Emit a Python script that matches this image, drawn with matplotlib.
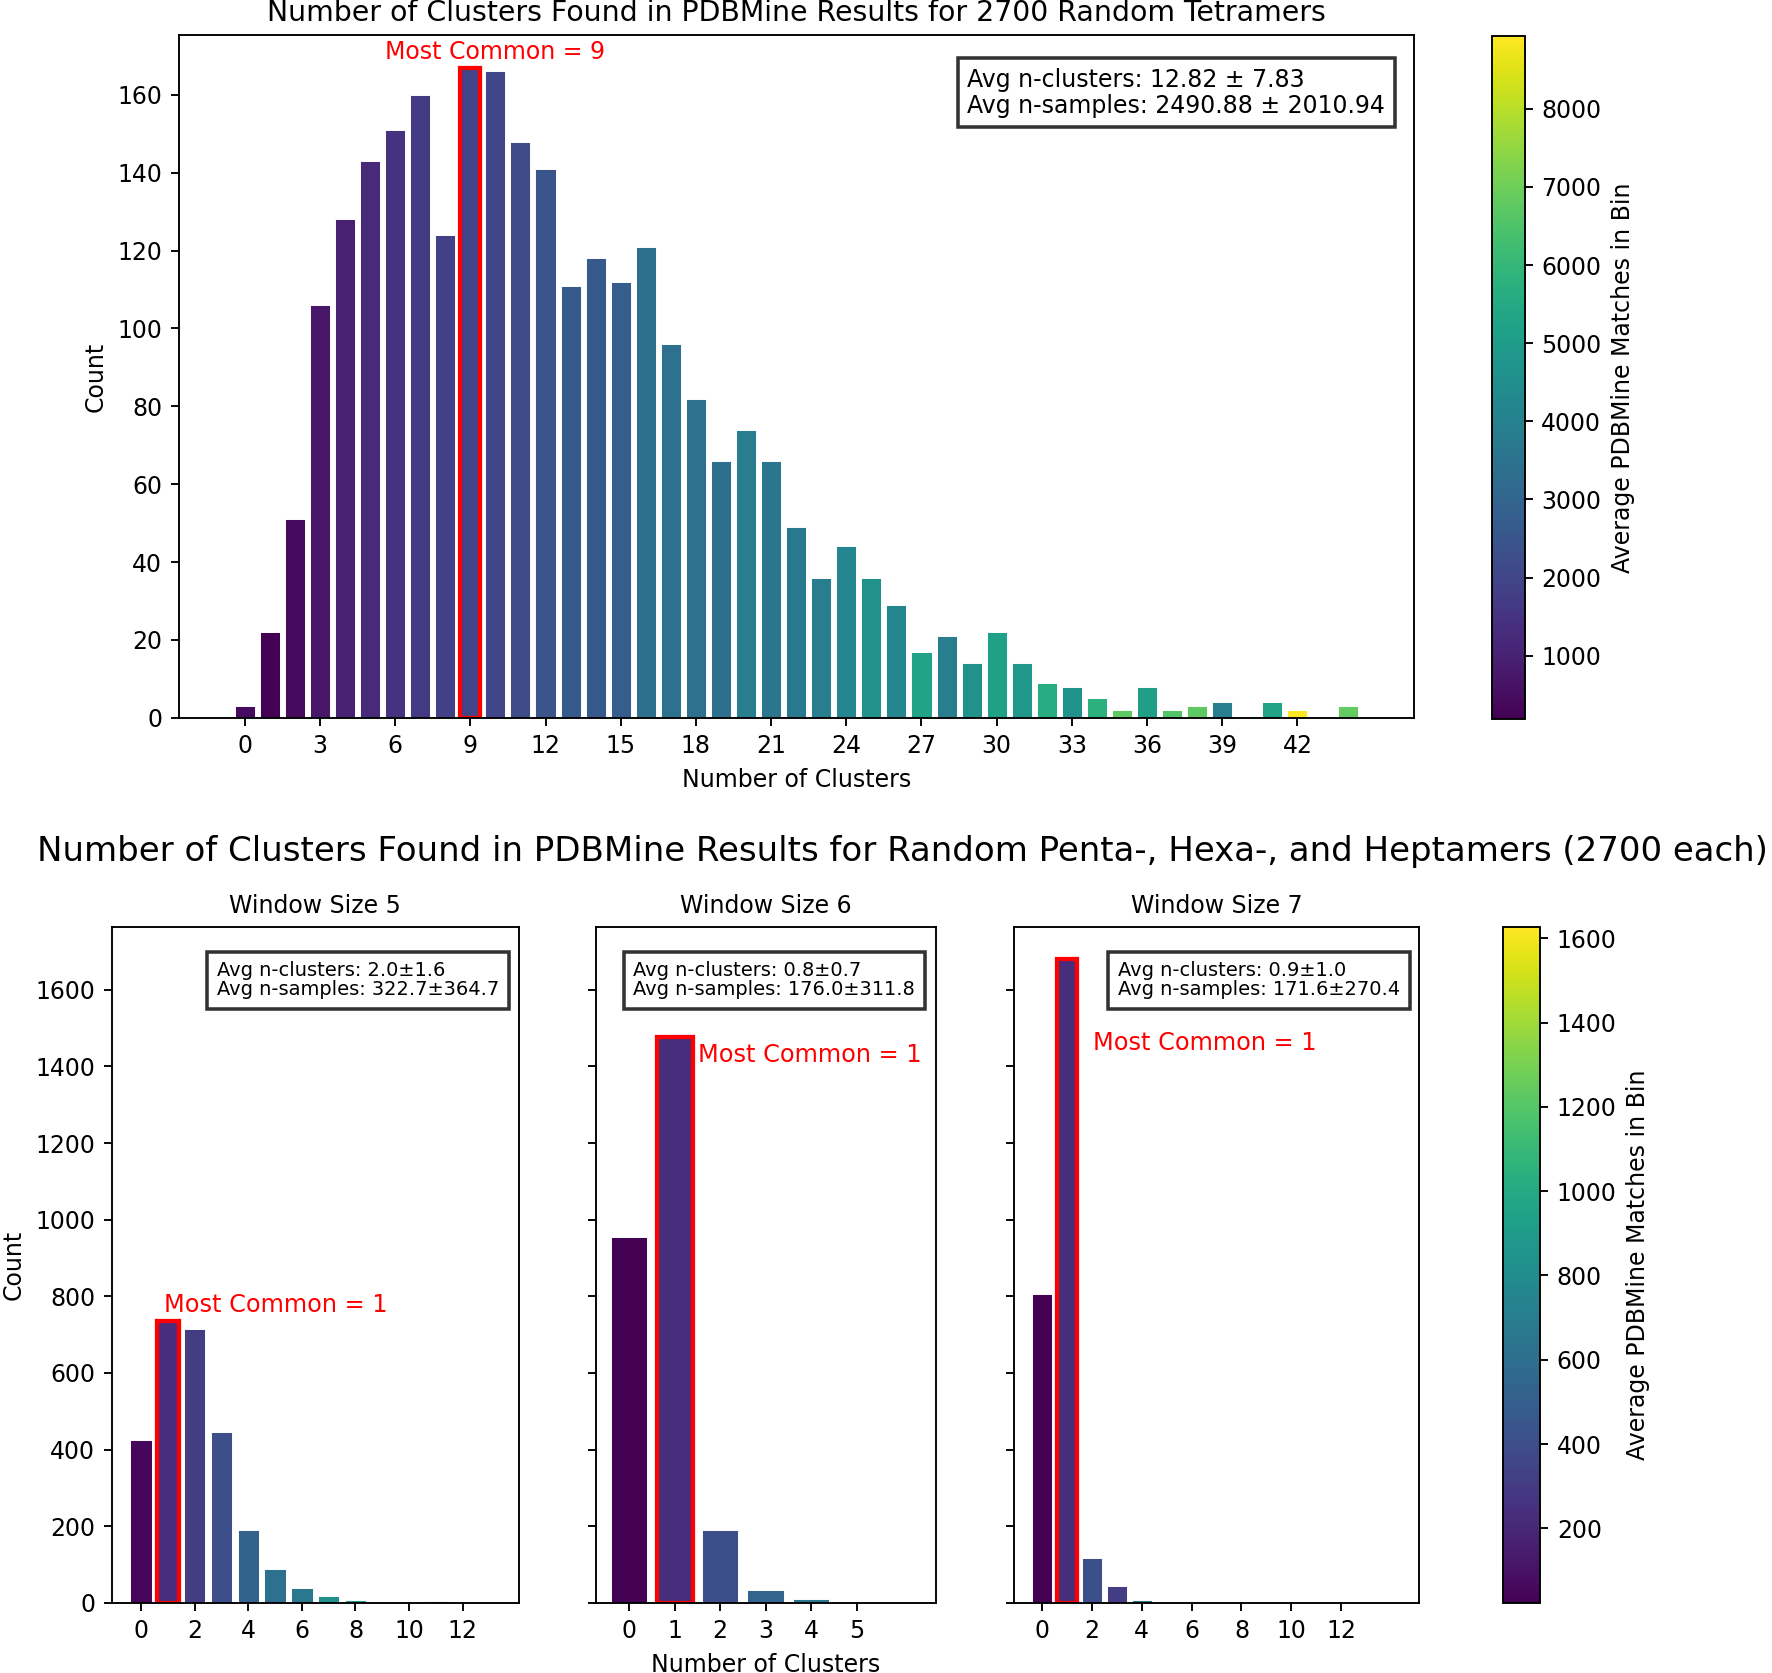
import matplotlib
matplotlib.use("Agg")
import matplotlib.pyplot as plt
from matplotlib.colors import Normalize
from matplotlib.cm import ScalarMappable

# ---------------- data ----------------
top_clusters = [0, 1, 2, 3, 4, 5, 6, 7, 8, 9, 10, 11, 12, 13, 14, 15, 16, 17, 18, 19,
                20, 21, 22, 23, 24, 25, 26, 27, 28, 29, 30, 31, 32, 33, 34, 35, 36, 37,
                38, 39, 41, 42, 44]
top_counts = [3, 22, 51, 106, 128, 143, 151, 160, 124, 167, 166, 148, 141, 111, 118, 112,
              121, 96, 82, 66, 74, 66, 49, 36, 44, 36, 29, 17, 21, 14, 22, 14, 9, 8, 5, 2,
              8, 2, 3, 4, 4, 2, 3]
top_avg_matches = [450, 190, 450, 710, 980, 1240, 1420, 1680, 1850, 1940, 2030, 2200, 2460,
                   2640, 2640, 2730, 3340, 3420, 3420, 3340, 3860, 3600, 3680, 3860, 4200,
                   4560, 4200, 5260, 3860, 4560, 5170, 4820, 5620, 4640, 5780, 6750, 5080,
                   6560, 6750, 3860, 5260, 8930, 6840]
top_xticks = [0, 3, 6, 9, 12, 15, 18, 21, 24, 27, 30, 33, 36, 39, 42]
top_mode = 9
top_stats = ("Avg n-clusters: 12.82 \u00b1 7.83\n"
             "Avg n-samples: 2490.88 \u00b1 2010.94")

w5_clusters = [0, 1, 2, 3, 4, 5, 6, 7, 8, 9, 10, 11, 12, 13]
w5_counts = [425, 735, 715, 445, 190, 88, 38, 17, 7, 2, 1, 5, 1, 1]
w5_avg_matches = [50, 230, 310, 410, 520, 615, 665, 825, 860, 700, 750, 985, 800, 700]
w5_xticks = [0, 2, 4, 6, 8, 10, 12]
w5_mode = 1
w5_stats = "Avg n-clusters: 2.0\u00b11.6\nAvg n-samples: 322.7\u00b1364.7"

w6_clusters = [0, 1, 2, 3, 4, 5, 6]
w6_counts = [955, 1478, 190, 33, 10, 1, 2]
w6_avg_matches = [23, 230, 410, 535, 665, 800, 1300]
w6_xticks = [0, 1, 2, 3, 4, 5]
w6_mode = 1
w6_stats = "Avg n-clusters: 0.8\u00b10.7\nAvg n-samples: 176.0\u00b1311.8"

w7_clusters = [0, 1, 2, 3, 4, 5, 7, 9, 14]
w7_counts = [805, 1680, 118, 45, 8, 1, 1, 1, 2]
w7_avg_matches = [23, 230, 410, 310, 615, 700, 900, 800, 1000]
w7_xticks = [0, 2, 4, 6, 8, 10, 12]
w7_mode = 1
w7_stats = "Avg n-clusters: 0.9\u00b11.0\nAvg n-samples: 171.6\u00b1270.4"

bottom_cbar_range = (23, 1627)

# "Most Common" label anchors (data coords)
w5_label_pos = (0.84, 745)
w6_label_pos = (1.52, 1430)
w7_label_pos = (2.06, 1460)

# ---------------- figure ----------------
DPI = 170
fig = plt.figure(figsize=(1772 / DPI, 1673 / DPI), dpi=DPI)
RW, RH = 1568.0, 1480.0  # layout reference grid


def grid_axes(x0, x1, y0, y1):
    return fig.add_axes([x0 / RW, 1 - y1 / RH, (x1 - x0) / RW, (y1 - y0) / RH])


cmap = plt.get_cmap("viridis")

# ---- top panel ----
ax = grid_axes(158, 1251, 31, 635)
norm_top = Normalize(vmin=min(top_avg_matches), vmax=max(top_avg_matches))
colors = [cmap(norm_top(v)) for v in top_avg_matches]
bars = ax.bar(top_clusters, top_counts, color=colors, edgecolor="white", linewidth=0.4)
for b, c in zip(bars, top_clusters):
    if c == top_mode:
        b.set_edgecolor("red")
        b.set_linewidth(1.8)
mode_count = top_counts[top_clusters.index(top_mode)]
ax.text(top_mode + 1, mode_count + 1, f"Most Common = {top_mode}", color="red",
        ha="center", va="bottom", fontsize=10)
ax.set_xticks(top_xticks)
ax.set_xlabel("Number of Clusters")
ax.set_ylabel("Count")
ax.set_title("Number of Clusters Found in PDBMine Results for 2700 Random Tetramers",
             fontsize=12)
ax.text(0.977, 0.952, top_stats, transform=ax.transAxes, ha="right", va="top",
        multialignment="left", fontsize=10, linespacing=1.1,
        bbox=dict(boxstyle="square,pad=0.4", facecolor="white", edgecolor="#333333",
                  linewidth=1.5))

cax = grid_axes(1320, 1349, 32, 636)
cb = fig.colorbar(ScalarMappable(norm=norm_top, cmap=cmap), cax=cax)
cb.set_label("Average PDBMine Matches in Bin")

# ---- bottom panels ----
norm_bot = Normalize(vmin=bottom_cbar_range[0], vmax=bottom_cbar_range[1])
panels = [
    ("Window Size 5", w5_clusters, w5_counts, w5_avg_matches, w5_xticks, w5_mode,
     w5_stats, w5_label_pos, (99, 459), 0.952),
    ("Window Size 6", w6_clusters, w6_counts, w6_avg_matches, w6_xticks, w6_mode,
     w6_stats, w6_label_pos, (527, 828), 0.939),
    ("Window Size 7", w7_clusters, w7_counts, w7_avg_matches, w7_xticks, w7_mode,
     w7_stats, w7_label_pos, (897, 1256), 0.952),
]
for i, (title, xs, cnts, avgs, xt, mode, stats, lpos, (xa, xb), bx) in enumerate(panels):
    a = grid_axes(xa, xb, 820, 1418)
    cols = [cmap(norm_bot(v)) for v in avgs]
    bs = a.bar(xs, cnts, color=cols, edgecolor="white", linewidth=0.4)
    for b, c in zip(bs, xs):
        if c == mode:
            b.set_edgecolor("red")
            b.set_linewidth(1.8)
    a.text(lpos[0], lpos[1], f"Most Common = {mode}", color="red", ha="left",
           va="bottom" if i == 0 else "center", fontsize=10.2)
    a.set_xticks(xt)
    a.set_title(title, fontsize=10)
    a.set_ylim(0, 1764)
    a.set_yticks([0, 200, 400, 600, 800, 1000, 1200, 1400, 1600])
    if i == 0:
        a.set_ylabel("Count")
    else:
        a.set_yticklabels([])
    if i == 1:
        a.set_xlabel("Number of Clusters")
    a.text(bx, 0.949, stats, transform=a.transAxes, ha="right", va="top",
           multialignment="left", fontsize=8.2, linespacing=1.0,
           bbox=dict(boxstyle="square,pad=0.5", facecolor="white", edgecolor="#333333",
                     linewidth=1.5))

cax2 = grid_axes(1330, 1363, 820, 1418)
cb2 = fig.colorbar(ScalarMappable(norm=norm_bot, cmap=cmap), cax=cax2)
cb2.set_label("Average PDBMine Matches in Bin")

fig.text(0.509, 1 - 852 / 1673,
         "Number of Clusters Found in PDBMine Results for Random Penta-, Hexa-, and "
         "Heptamers (2700 each)", ha="center", va="center", fontsize=14.4)

fig.savefig("out.png", dpi=DPI)
